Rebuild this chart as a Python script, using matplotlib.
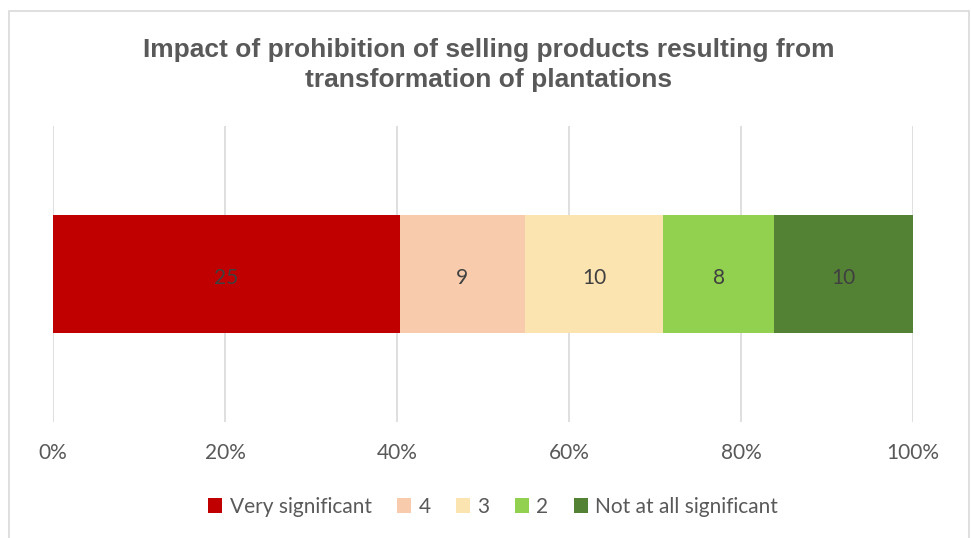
import numpy as np
import matplotlib.pyplot as plt
from matplotlib.patches import Rectangle
from matplotlib.ticker import PercentFormatter

categories = ['Very significant', '4', '3', '2', 'Not at all significant']
counts = [25, 9, 10, 8, 10]
colors = ['#C00000', '#F8CBAD', '#FCE4B0', '#92D050', '#548235']
title = 'Impact of prohibition of selling products resulting from\ntransformation of plantations'

text_color = '#595959'
plt.rcParams['font.family'] = ['Lato', 'DejaVu Sans']

fig = plt.figure(figsize=(9.71, 5.38), dpi=100)
W, H = 971, 538

# chart area frame
fig.patches.append(Rectangle((9 / W, -0.05), 960 / W, 1.05 - 11 / H,
                             transform=fig.transFigure, fill=False,
                             edgecolor='#D9D9D9', linewidth=1.2))

ax = fig.add_axes([53 / W, 1 - 422 / H, 860 / W, 296 / H])

total = sum(counts)
shares = np.array(counts) / total
left = 0
for cat, n, s, c in zip(categories, counts, shares, colors):
    ax.barh(0, s, left=left, height=0.4, color=c, label=cat, zorder=3)
    ax.text(left + s / 2, -0.012, str(n), ha='center', va='center',
            fontsize=15, color='#404040', zorder=4)
    left += s

ax.set_xlim(0, 1)
ax.set_ylim(-0.5, 0.5)
ax.set_xticks(np.linspace(0, 1, 6))
ax.xaxis.set_major_formatter(PercentFormatter(1.0, decimals=0))
ax.set_yticks([])
ax.grid(axis='x', color='#D9D9D9', linewidth=1.2, zorder=0)
ax.tick_params(axis='x', length=0, pad=15, labelsize=15, labelcolor=text_color)
for sp in ax.spines.values():
    sp.set_visible(False)

fig.text(489 / W, 1 - 65 / H, title, ha='center', va='center',
         fontsize=19, fontweight='bold', color=text_color,
         family=['Liberation Sans', 'DejaVu Sans'], linespacing=1.35)

ax.legend(loc='center', bbox_to_anchor=(493 / W, 1 - 507 / H),
          bbox_transform=fig.transFigure, ncol=5, frameon=False,
          fontsize=15, labelcolor=text_color, handlelength=0.7,
          handleheight=0.7, handletextpad=0.35, columnspacing=1.2)

fig.savefig('out.png', dpi=100)
